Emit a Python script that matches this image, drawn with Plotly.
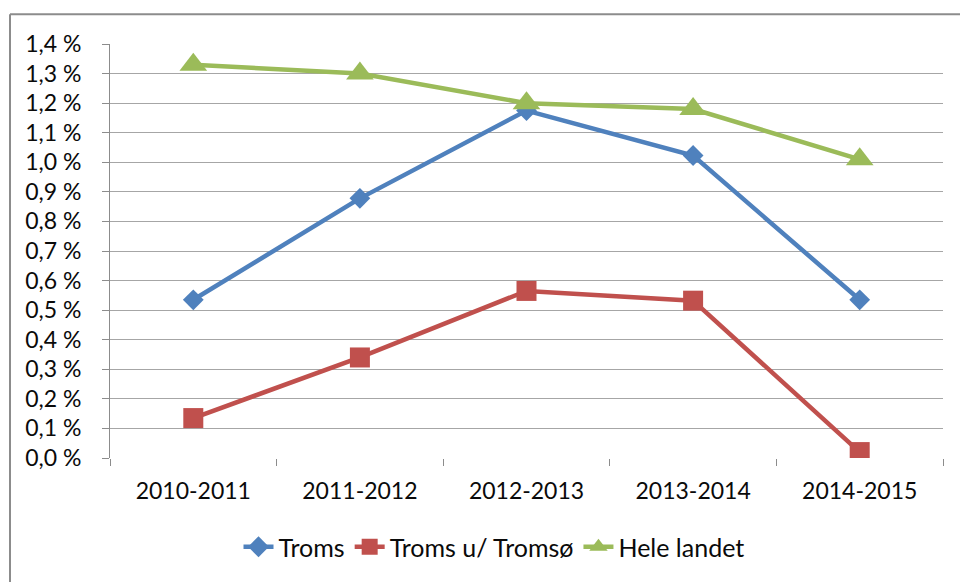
import plotly.graph_objects as go

categories = ["2010-2011", "2011-2012", "2012-2013", "2013-2014", "2014-2015"]
troms = [0.535, 0.878, 1.175, 1.023, 0.535]
troms_u_tromso = [0.135, 0.340, 0.565, 0.532, 0.020]
hele_landet = [1.330, 1.300, 1.200, 1.180, 1.010]
ytick_vals = [i / 10 for i in range(0, 15)]
ytick_text = [f"{v:.1f} %".replace(".", ",") for v in ytick_vals]

FONT = "Lato, 'Open Sans', sans-serif"

fig = go.Figure()
series = [
    ("Troms", troms, "#4F81BD", "diamond", 16),
    ("Troms u/ Tromsø", troms_u_tromso, "#C0504D", "square", 20),
    ("Hele landet", hele_landet, "#9BBB59", "triangle-up", 24),
]
for name, vals, color, sym, size in series:
    fig.add_trace(go.Scatter(
        x=categories, y=vals, name=name, mode="lines+markers",
        line=dict(color=color, width=4.5),
        marker=dict(symbol=sym, size=size, color=color, line=dict(width=0)),
    ))

L, T, PW, PH = 110, 44, 833, 416
W, H = 960, 582
bx0 = (10 - L) / PW
by1 = (T + PH - 14) / PH
fig.update_layout(
    width=W, height=H,
    margin=dict(l=L, r=W - L - PW, t=T, b=H - T - PH),
    paper_bgcolor="white", plot_bgcolor="white",
    font=dict(family=FONT, size=23, color="#0a0a0a"),
    showlegend=True,
    legend=dict(orientation="h", x=(494 - L) / PW, xanchor="center", y=-0.215, yanchor="middle",
                font=dict(family=FONT, size=25, color="#0a0a0a"),
                traceorder="normal"),
    xaxis=dict(
        type="category", range=[-0.5, 4.5], showgrid=False,
        tickson="boundaries", ticks="outside", ticklen=7, tickcolor="#8c8c8c",
        showline=False, zeroline=False, ticklabelstandoff=17,
        tickfont=dict(family=FONT, size=23, color="#0a0a0a"),
    ),
    yaxis=dict(
        range=[0, 1.4], tickvals=ytick_vals, ticktext=ytick_text,
        showgrid=True, gridcolor="#a6a6a6", gridwidth=1,
        ticks="outside", ticklen=7, tickcolor="#8c8c8c",
        showline=True, linecolor="#8c8c8c", linewidth=1,
        zeroline=False, ticklabelstandoff=16,
        tickfont=dict(family=FONT, size=23, color="#0a0a0a"),
    ),
    shapes=[
        dict(type="line", xref="paper", yref="paper",
             x0=bx0, x1=1.2, y0=by1, y1=by1,
             line=dict(color="#8c8c8c", width=2), layer="below"),
        dict(type="line", xref="paper", yref="paper",
             x0=bx0, x1=bx0, y0=-0.5, y1=by1,
             line=dict(color="#8c8c8c", width=2), layer="below"),
    ],
)

fig.write_html(
    "out.html",
    config={"displayModeBar": False},
    post_script=(
        "document.body.style.margin='0';"
        "document.body.style.overflow='hidden';"
        "document.documentElement.style.overflow='hidden';"
    ),
)
